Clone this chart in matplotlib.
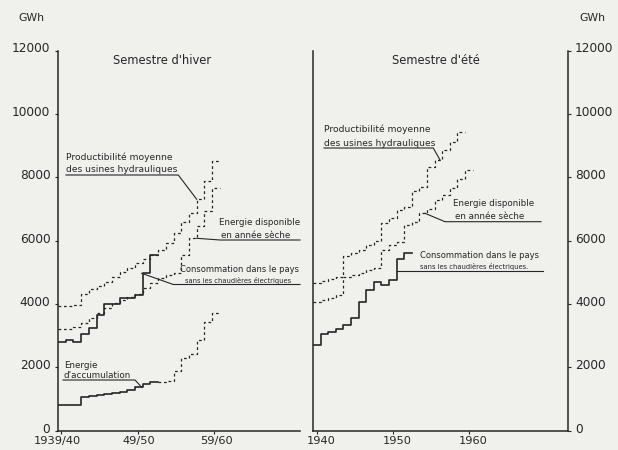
import numpy as np
import matplotlib
matplotlib.use("Agg")
import matplotlib.pyplot as plt
from matplotlib.transforms import ScaledTranslation

# ---------------- data ----------------
# Winter semester (step index: winter 1939/40 -> 1939)
winter_years = list(range(1939, 1960))
winter_productibilite = [3930, 3930, 3960, 4300, 4480, 4580, 4700, 4850, 5000, 5150, 5300,
                         5420, 5540, 5700, 5910, 6250, 6580, 6880, 7300, 7880, 8510]
winter_energie_seche = [3200, 3200, 3280, 3390, 3550, 3700, 3880, 4020, 4120, 4230, 4330,
                        4500, 4650, 4810, 4910, 4965, 5550, 6070, 6450, 6950, 7650]
winter_consommation = [2790, 2860, 2790, 3040, 3230, 3650, 3990, 3990, 4200, 4200, 4280,
                       4970, 5540]
winter_accumulation = [810, 810, 810, 1070, 1100, 1130, 1150, 1180, 1230, 1300, 1370,
                       1460, 1530, 1550, 1560, 1900, 2280, 2420, 2860, 3440, 3700]
winter_accum_observed = 13   # first 13 winters drawn solid

# Summer semester
summer_years = list(range(1940, 1961))
summer_productibilite = [4650, 4720, 4800, 4850, 5500, 5600, 5700, 5850, 5980, 6540, 6700,
                         6960, 7070, 7550, 7700, 8330, 8540, 8860, 9120, 9430]
summer_energie_seche = [4070, 4120, 4200, 4280, 4860, 4920, 4980, 5070, 5150, 5700, 5850,
                        5950, 6500, 6600, 6860, 7000, 7280, 7440, 7650, 7960, 8220]
summer_consommation = [2700, 3040, 3120, 3210, 3330, 3550, 4050, 4430, 4680, 4600, 4750,
                       5420, 5600]

y_ticks = [0, 2000, 4000, 6000, 8000, 10000, 12000]
winter_tick_labels = ["1939/40", "49/50", "59/60"]
summer_tick_labels = ["1940", "1950", "1960"]

# ---------------- style ----------------
BG = "#f0f0ed"
INK = "#262626"
DASH = (0, (2.2, 2.2))
FONT = "DejaVu Sans"
plt.rcParams["font.family"] = [FONT]

W, H = 618, 450
fig = plt.figure(figsize=(W / 100, H / 100), dpi=100, facecolor=BG)

x_left_px, x_mid_px, x_right_px = 58, 313, 568
y_bot_px, y_top_px = 430.7, 50.5
axL = fig.add_axes([x_left_px / W, 1 - y_bot_px / H, (x_mid_px - x_left_px) / W,
                    (y_bot_px - y_top_px) / H])
axR = fig.add_axes([x_mid_px / W, 1 - y_bot_px / H, (x_right_px - x_mid_px) / W,
                    (y_bot_px - y_top_px) / H])

pxL, pxR = 7.7, 7.6           # pixels per year in each panel
x0 = 1939.5
axL.set_xlim(x0, x0 + (x_mid_px - x_left_px) / pxL)
axR.set_xlim(x0, x0 + (x_right_px - x_mid_px) / pxR)
for ax in (axL, axR):
    ax.set_ylim(0, 12000)
    ax.set_facecolor(BG)
    ax.patch.set_alpha(0)
    for s in ax.spines.values():
        s.set_color(INK)
        s.set_linewidth(1.1)
    ax.spines["top"].set_visible(False)

axL.spines["right"].set_visible(False)
axL.spines["bottom"].set_bounds(x0, x0 + (300 - x_left_px) / pxL)
axR.spines["right"].set_visible(True)


def step_edges(years, vals, offset):
    x = [y + offset for y in years[:len(vals)]]
    x.append(x[-1] + 1)
    v = list(vals) + [vals[-1]]
    return x, v


# winter curves (winter Y/Y+1 step spans [Y+0.5, Y+1.5])
for vals in (winter_productibilite, winter_energie_seche):
    x, v = step_edges(winter_years, vals, 0.5)
    axL.step(x, v, where="post", color=INK, lw=0.9, linestyle=DASH)
x, v = step_edges(winter_years, winter_consommation, 0.5)
axL.step(x, v, where="post", color=INK, lw=1.2)
n = winter_accum_observed
x, v = step_edges(winter_years[:n], winter_accumulation[:n], 0.5)
axL.step(x, v, where="post", color=INK, lw=1.2)
x, v = step_edges(winter_years[n:], winter_accumulation[n:], 0.5)
axL.step(x, v, where="post", color=INK, lw=0.9, linestyle=DASH)

# summer curves (summer Y step spans [Y-0.5, Y+0.5])
for vals in (summer_productibilite, summer_energie_seche):
    x, v = step_edges(summer_years, vals, -0.5)
    axR.step(x, v, where="post", color=INK, lw=0.9, linestyle=DASH)
x, v = step_edges(summer_years, summer_consommation, -0.5)
axR.step(x, v, where="post", color=INK, lw=1.2)

# ticks
axL.set_yticks(y_ticks)
axL.set_yticklabels([str(t) for t in y_ticks], fontsize=8.7, color=INK)
axL.tick_params(axis="y", direction="out", length=2.5, width=0.8, pad=3, colors=INK)
axR.set_yticks(y_ticks)
axR.yaxis.tick_right()
axR.set_yticklabels([str(t) for t in y_ticks], fontsize=8.7, color=INK)
axR.tick_params(axis="y", direction="out", length=2.5, width=0.8, pad=2.5, colors=INK,
                left=False)
axL.set_xticks([1939.9, 1949.9, 1959.8])
axL.set_xticklabels(winter_tick_labels, fontsize=8.2, color=INK)
axR.set_xticks([1940, 1950, 1960])
axR.set_xticklabels(summer_tick_labels, fontsize=8.2, color=INK)
for ax in (axL, axR):
    ax.tick_params(axis="x", direction="out", length=2, width=0.8, pad=1.5, colors=INK)

# small label offsets (pixels) to follow the hand lettering
for ax in (axL, axR):
    for lab in ax.get_yticklabels():
        lab.set_transform(lab.get_transform() + ScaledTranslation(0, 3 / 100, fig.dpi_scale_trans))
for lab, dx in zip(axL.get_xticklabels(), [-3.5, 1, 2]):
    lab.set_transform(lab.get_transform() + ScaledTranslation(dx / 100, 0, fig.dpi_scale_trans))
for lab in axR.get_xticklabels():
    lab.set_transform(lab.get_transform() + ScaledTranslation(4 / 100, 0, fig.dpi_scale_trans))

# ---------------- annotations (figure-pixel layout) ----------------
def fx(px):
    return px / W


def fy(py):
    return 1 - py / H


def ftext(px, py, s, size=6.8, ha="left"):
    fig.text(fx(px), fy(py), s, fontsize=size, ha=ha, va="center", color=INK)


def fline(pts, lw=0.8):
    xs = [fx(p[0]) for p in pts]
    ys = [fy(p[1]) for p in pts]
    fig.add_artist(plt.Line2D(xs, ys, transform=fig.transFigure, color=INK, lw=lw))


ftext(31.5, 18, "GWh", size=7.8, ha="center")
ftext(592, 18, "GWh", size=7.8, ha="center")
ftext(161.7, 60, "Semestre d'hiver", size=8.3, ha="center")
ftext(435.8, 60, "Semestre d'été", size=8.3, ha="center")

# left panel labels
ftext(66.5, 157, "Productibilité moyenne", size=6.6)
ftext(66.5, 169, "des usines hydrauliques", size=6.6)
fline([(66, 175), (178.3, 175), (196.7, 199.3)])

ftext(219, 222, "Energie disponible", size=6.3)
ftext(221, 235.5, "en année sèche", size=6.3)
fline([(196.7, 238.3), (220, 240), (300, 240)])

ftext(180, 269.3, "Consommation dans le pays", size=6.0)
ftext(185, 280.5, "sans les chaudières électriques", size=4.9)
fline([(141.7, 273.3), (173.3, 284.5), (300, 284.5)])

ftext(64, 365, "Energie", size=6.3)
ftext(63.3, 375.5, "d'accumulation", size=6.3)
fline([(63, 380), (135, 380), (141.7, 387.3)])

# right panel labels
ftext(324, 129.5, "Productibilité moyenne", size=6.6)
ftext(324, 143, "des usines hydrauliques", size=6.6)
fline([(324, 148), (433.3, 148), (440, 160)])

ftext(453, 203.3, "Energie disponible", size=6.3)
ftext(455, 216.7, "en année sèche", size=6.3)
fline([(425, 213.3), (445, 221.7), (541, 221.7)])

ftext(420, 256, "Consommation dans le pays", size=6.0)
ftext(420, 267, "sans les chaudières électriques.", size=4.9)
fline([(396.7, 270.7), (543, 270.7)])

fig.savefig("out.png", dpi=100, facecolor=BG)
